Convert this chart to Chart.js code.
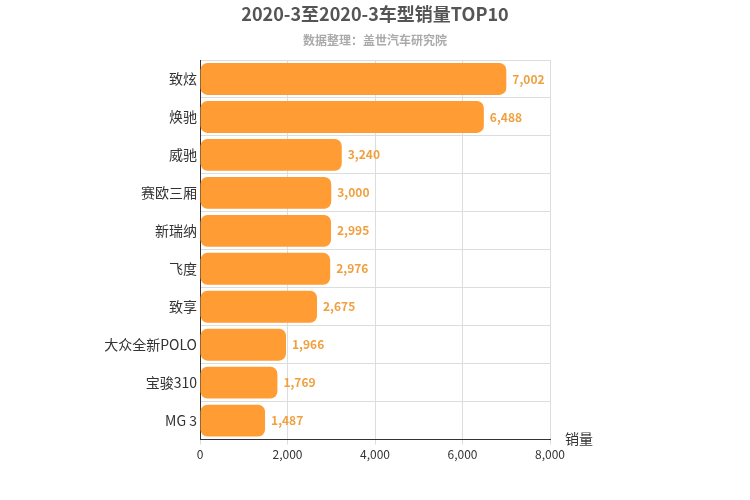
<!DOCTYPE html>
<html><head><meta charset="utf-8">
<script src="https://cdn.jsdelivr.net/npm/chart.js@4/dist/chart.umd.min.js"></script>
<style>body{margin:0;background:#fff}#w{width:750px;height:500px}</style>
</head><body><div id="w"><canvas id="c"></canvas></div>
<script>
const categories=["致炫","焕驰","威驰","赛欧三厢","新瑞纳","飞度","致享","大众全新POLO","宝骏310","MG 3"];
const sales=[7002,6488,3240,3000,2995,2976,2675,1966,1769,1487];
const xTicks=[0,2000,4000,6000,8000];
const F='"Microsoft YaHei","Noto Sans CJK SC",sans-serif';
const labels={id:'lbl',afterDatasetsDraw(ch){const c=ch.ctx;const m=ch.getDatasetMeta(0);c.save();c.font='bold 12px '+F;c.fillStyle='#F0A040';c.textBaseline='middle';m.data.forEach((b,i)=>{c.fillText(sales[i].toLocaleString('en-US'),b.x+6,b.y);});
c.font='14px '+F;c.fillStyle='#333';c.fillText('销量',565,439);
c.textAlign='center';c.font='bold 18px '+F;c.fillStyle='#555';c.fillText('2020-3至2020-3车型销量TOP10',375,14);
c.font='bold 12px '+F;c.fillStyle='#aaa';c.fillText('数据整理：盖世汽车研究院',375,40);c.restore();}};
new Chart(document.getElementById('c'),{type:'bar',data:{labels:categories,datasets:[{data:sales,backgroundColor:'#FF9C33',borderRadius:7,borderSkipped:false,barPercentage:0.84,categoryPercentage:1}]},
options:{indexAxis:'y',responsive:true,maintainAspectRatio:false,animation:false,
layout:{padding:{left:0,right:200,top:60,bottom:35}},
plugins:{legend:{display:false},tooltip:{enabled:false}},
scales:{x:{min:0,max:8000,afterBuildTicks:a=>{a.ticks=xTicks.map(v=>({value:v}))},ticks:{color:'#333',font:{size:12,family:F},callback:v=>v.toLocaleString('en-US')},grid:{color:'#ddd',drawTicks:true,tickLength:5},border:{color:'#333'}},
y:{afterFit:a=>{a.width=200},ticks:{color:'#333',font:{size:14,family:F}},grid:{color:'#ddd',offset:true,drawTicks:false},border:{color:'#333'}}}},
plugins:[labels]});
</script></body></html>
